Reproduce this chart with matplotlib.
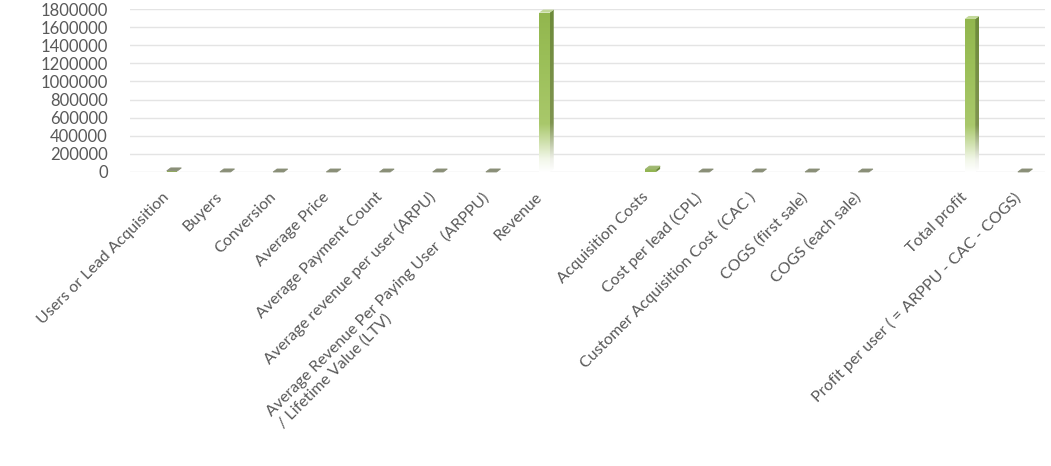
import numpy as np
import matplotlib
matplotlib.use("Agg")
import matplotlib.pyplot as plt
from matplotlib.patches import Polygon, Rectangle
from matplotlib.colors import LinearSegmentedColormap
import matplotlib.transforms as mtransforms

categories = [
    "Users or Lead Acquisition",
    "Buyers",
    "Conversion",
    "Average Price",
    "Average Payment Count",
    "Average revenue per user (ARPU)",
    "Average Revenue Per Paying User  (ARPPU)\n/ Lifetime Value (LTV)",
    "Revenue",
    "",
    "Acquisition Costs",
    "Cost per lead (CPL)",
    "Customer Acquisition Cost  (CAC )",
    "COGS (first sale)",
    "COGS (each sale)",
    "",
    "Total profit",
    "Profit per user ( = ARPPU - CAC - COGS)",
]
values = [12000, 600, 0.05, 120, 3, 250, 350, 1760000, np.nan,
          32000, 5, 110, 12, 12, np.nan, 1690000, 230]
y_ticks = [0, 200000, 400000, 600000, 800000, 1000000, 1200000,
           1400000, 1600000, 1800000]

plt.rcParams['font.family'] = ['Lato', 'DejaVu Sans']

W, H = 1051, 466
fig = plt.figure(figsize=(W / 100, H / 100), dpi=100)
ax = fig.add_axes([130 / W, 1 - 172 / H, (1045 - 130) / W, (172 - 9) / H])

n = len(categories)
x = np.arange(n)
ax.set_xlim(-0.79, 16.41)
ax.set_ylim(0, 1800000)
ax.set_yticks(y_ticks)
ax.set_yticklabels([str(v) for v in y_ticks], fontsize=12, color="#595959")
ax.yaxis.grid(True, color="#e4e4e4", lw=1)
ax.set_axisbelow(True)
for s in ax.spines.values():
    s.set_visible(False)
ax.tick_params(axis="both", length=0)
ax.tick_params(axis="y", pad=16)
ax.tick_params(axis="x", pad=13)

ax.set_xticks(x)
ax.set_xticklabels(categories, rotation=45, ha="right", va="top",
                   rotation_mode="anchor", fontsize=11.5, color="#595959")
shift = mtransforms.ScaledTranslation(-7 / 72, 0, fig.dpi_scale_trans)
for lab in ax.get_xticklabels():
    lab.set_transform(lab.get_transform() + shift)
    if "\n" in lab.get_text():
        lab.set_multialignment("left")

# geometry of 3D bars in data units
w = 0.2
fig.canvas.draw()
inv = ax.transData.inverted()
p0 = inv.transform((0, 0))
p1 = inv.transform((1, 1))
dxu = (p1[0] - p0[0]) * 4.0
dyu = (p1[1] - p0[1]) * 3.0

front_cmap = LinearSegmentedColormap.from_list(
    "front", [(0, "#ffffff"), (0.08, "#f2f7e9"), (0.3, "#a9c86b"),
              (0.7, "#9bbf58"), (1, "#92b64e")])
side_cmap = LinearSegmentedColormap.from_list(
    "side", [(0, "#ffffff"), (0.08, "#eef0e8"), (0.3, "#7f9450"),
             (1, "#6d8a3a")])
grad = np.linspace(0, 1, 256).reshape(-1, 1)

for xi, v in zip(x, values):
    if np.isnan(v):
        continue
    big = v > 100000
    if big:
        rect = Rectangle((xi - w / 2, 0), w, v, facecolor="none", edgecolor="none")
        ax.add_patch(rect)
        im = ax.imshow(grad, cmap=front_cmap, origin="lower", aspect="auto",
                       extent=[xi - w / 2, xi + w / 2, 0, v], zorder=3)
        im.set_clip_path(rect)
        side = Polygon([(xi + w / 2, 0), (xi + w / 2 + dxu, dyu),
                        (xi + w / 2 + dxu, v + dyu), (xi + w / 2, v)],
                       closed=True, facecolor="none", edgecolor="none")
        ax.add_patch(side)
        im2 = ax.imshow(grad, cmap=side_cmap, origin="lower", aspect="auto",
                        extent=[xi + w / 2, xi + w / 2 + dxu, 0, v + dyu], zorder=3)
        im2.set_clip_path(side)
        topc = "#c3d99a"
    else:
        ax.bar(xi, v, width=w, color="#93b553", zorder=3)
        topc = "#9fb870" if v > 20000 else "#8a8f78"
        if v > 20000:
            ax.add_patch(Polygon([(xi + w / 2, 0), (xi + w / 2 + dxu, dyu),
                                  (xi + w / 2 + dxu, v + dyu), (xi + w / 2, v)],
                                 closed=True, facecolor="#6d8a3a", zorder=3))
    ax.add_patch(Polygon([(xi - w / 2, v), (xi + w / 2, v),
                          (xi + w / 2 + dxu, v + dyu), (xi - w / 2 + dxu, v + dyu)],
                         closed=True, facecolor=topc, edgecolor=topc if not big else "none",
                         lw=0.6, zorder=4, clip_on=False))

ax.set_xlim(-0.79, 16.41)
ax.set_ylim(0, 1800000)
fig.savefig("out.png", dpi=100)
